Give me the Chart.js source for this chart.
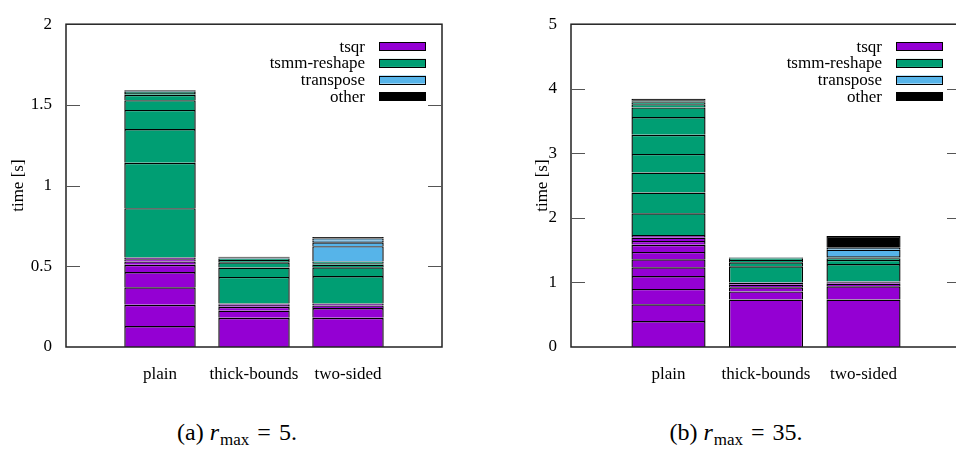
<!DOCTYPE html>
<html>
<head>
<meta charset="utf-8">
<script src="https://cdn.jsdelivr.net/npm/chart.js@4.4.1/dist/chart.umd.min.js"></script>
<style>
  html, body { margin: 0; padding: 0; background: #fff; width: 956px; height: 466px; overflow: hidden; }
  canvas { position: absolute; top: 0; }
  #left { left: 0; }
  #right { left: 478px; }
  .cap {
    position: absolute; top: 417px;
    font-family: "Liberation Serif", "Times New Roman", serif;
    font-size: 24px; color: #000;
    white-space: nowrap; transform: translateX(-50%); line-height: 30px;
  }
  .cap sub { font-size: 17px; font-style: normal; vertical-align: -5px; line-height: 0; }
  .cap i { margin-right: 1px; }
  .cap .eq { margin: 0 8px; }
</style>
</head>
<body>
<canvas id="left" width="478" height="400"></canvas>
<canvas id="right" width="500" height="400"></canvas>
<div class="cap" style="left:237px">(a) <i>r</i><sub>max</sub><span class="eq">=</span>5.</div>
<div class="cap" style="left:736px">(b) <i>r</i><sub>max</sub><span class="eq">=</span>35.</div>

<script>
// Variants compared in both panels
const categories = ['plain', 'thick-bounds', 'two-sided'];
const seriesNames = ['tsqr', 'tsmm-reshape', 'transpose', 'other'];
const seriesColors = ['#9400d3', '#009e73', '#56b4e9', '#000000'];

// r_max = 5: time per iteration [s], one list per variant (bottom to top)
const tsqrR5 = [
  [0.130, 0.131, 0.109, 0.094, 0.045, 0.021, 0.014, 0.010],
  [0.181, 0.044, 0.024, 0.012, 0.008],
  [0.181, 0.060, 0.016, 0.012]
];
const tsmmR5 = [
  [0.306, 0.281, 0.209, 0.119, 0.060, 0.034, 0.011, 0.006],
  [0.165, 0.058, 0.033, 0.014, 0.010],
  [0.171, 0.054, 0.015, 0.010, 0.011]
];
const transposeR5 = [[0.004], [0.004], [0.095, 0.024, 0.010, 0.013]];
const otherR5 = [[0.006], [0.006], [0.010]];

// r_max = 35
const tsqrR35 = [
  [0.403, 0.259, 0.238, 0.200, 0.134, 0.124, 0.115, 0.110, 0.060, 0.050, 0.040],
  [0.736, 0.125, 0.064, 0.040, 0.025, 0.010],
  [0.736, 0.204, 0.040, 0.022, 0.014]
];
const tsmmR35 = [
  [0.337, 0.323, 0.308, 0.289, 0.298, 0.274, 0.149, 0.050, 0.030, 0.015],
  [0.249, 0.064, 0.035, 0.020, 0.012],
  [0.268, 0.064, 0.025, 0.018]
];
const transposeR35 = [[0.010], [0.004], [0.017, 0.099, 0.030]];
const otherR35 = [[0.030], [0.006], [0.184]];

// y axis ranges
const yMaxR5 = 2, yStepR5 = 0.5;
const yMaxR35 = 5, yStepR35 = 1;

const FAMILY = '"Liberation Serif", "Times New Roman", serif';
const FONT = { family: FAMILY, size: 17 };
// empty slots on either side keep the bars off the frame
const xLabels = [''].concat(categories, ['']);

// one stacked dataset per iteration of each series
function buildDatasets(groups) {
  const out = [];
  groups.forEach((perCat, s) => {
    const n = Math.max(...perCat.map(a => a.length));
    for (let i = 0; i < n; i++) {
      const data = [null];
      perCat.forEach(a => data.push(i < a.length ? a[i] : null));
      data.push(null);
      out.push({
        label: seriesNames[s],
        data,
        backgroundColor: seriesColors[s],
        borderColor: '#000',
        borderWidth: 1.4,
        borderSkipped: 'start',
        stack: 'all',
        barPercentage: 0.76,
        categoryPercentage: 1
      });
    }
  });
  return out;
}

// frame with short inward ticks on both sides
const framePlugin = {
  id: 'frame',
  afterDraw(chart) {
    const { ctx, chartArea: a, scales: { y } } = chart;
    ctx.save();
    ctx.strokeStyle = '#222';
    ctx.lineWidth = 1.5;
    ctx.strokeRect(a.left, a.top, a.right - a.left, a.bottom - a.top);
    ctx.strokeStyle = '#555';
    ctx.lineWidth = 1;
    y.ticks.forEach(t => {
      if (t.value <= y.min || t.value >= y.max) return;
      const py = Math.round(y.getPixelForValue(t.value)) + 0.5;
      ctx.beginPath();
      ctx.moveTo(a.left, py); ctx.lineTo(a.left + 14, py);
      ctx.moveTo(a.right, py); ctx.lineTo(a.right - 14, py);
      ctx.stroke();
    });
    ctx.restore();
  }
};

// key in the top right corner: text then swatch
const keyPlugin = {
  id: 'key',
  afterDraw(chart, args, opts) {
    const { ctx, chartArea: a } = chart;
    ctx.save();
    ctx.font = FONT.size + 'px ' + FONT.family;
    ctx.textAlign = 'right';
    ctx.textBaseline = 'middle';
    const sx = a.right - opts.gap - 47;
    seriesNames.forEach((name, i) => {
      const cy = a.top + 22 + i * 16.7;
      ctx.fillStyle = '#000';
      ctx.fillText(name, sx - 14, cy + 1);
      ctx.fillStyle = seriesColors[i];
      ctx.fillRect(sx, cy - 4, 47, 8);
      ctx.strokeStyle = '#000';
      ctx.lineWidth = 1;
      ctx.strokeRect(sx + 0.5, Math.round(cy - 4) + 0.5, 46, 8);
    });
    ctx.restore();
  }
};

function makeChart(id, groups, yMax, yStep, cfg) {
  return new Chart(document.getElementById(id), {
    type: 'bar',
    data: { labels: xLabels, datasets: buildDatasets(groups) },
    options: {
      responsive: false,
      animation: false,
      layout: { padding: { top: 12, right: cfg.padRight, bottom: 0, left: 0 } },
      plugins: { legend: { display: false }, tooltip: { enabled: false }, key: { gap: cfg.keyGap } },
      scales: {
        x: {
          type: 'category', offset: false, stacked: true,
          grid: { display: false, drawTicks: false }, border: { display: false },
          ticks: { font: FONT, color: '#000', padding: 17, maxRotation: 0, autoSkip: false },
          afterFit(s) { s.height = 53; }
        },
        y: {
          stacked: true, min: 0, max: yMax,
          grid: { display: false, drawTicks: false }, border: { display: false },
          ticks: {
            stepSize: yStep, font: FONT, color: '#000', padding: 14,
            callback: v => String(+v.toFixed(2))
          },
          title: { display: true, text: 'time [s]', font: FONT, color: '#000', padding: { top: cfg.titlePad, bottom: 0 } },
          afterFit(s) { s.width = cfg.yWidth; }
        }
      }
    },
    plugins: [framePlugin, keyPlugin]
  });
}

makeChart('left', [tsqrR5, tsmmR5, transposeR5, otherR5], yMaxR5, yStepR5,
  { padRight: 36, yWidth: 66, titlePad: 8, keyGap: 16 });
makeChart('right', [tsqrR35, tsmmR35, transposeR35, otherR35], yMaxR35, yStepR35,
  { padRight: 13, yWidth: 93, titlePad: 54, keyGap: 18 });
</script>
</body>
</html>
